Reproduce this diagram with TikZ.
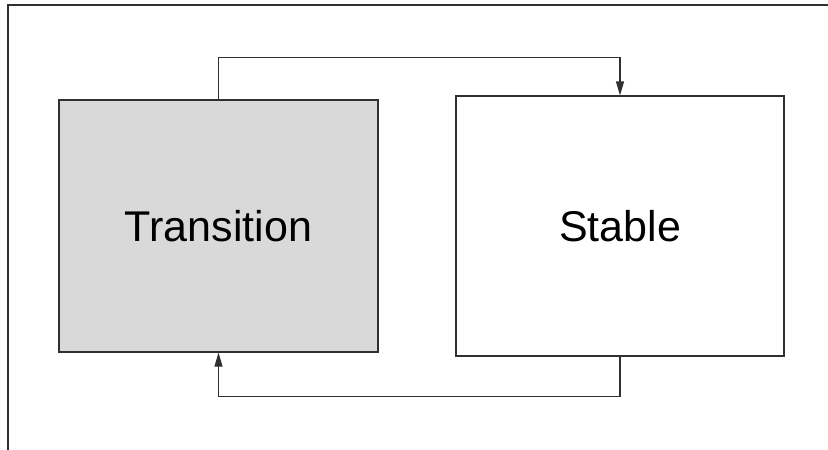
\documentclass[tikz,border=0pt]{standalone}
\usepackage{fontspec}
\setmainfont{Liberation Sans}
\usetikzlibrary{arrows.meta}

\definecolor{boxgray}{HTML}{D9D9D9}
\definecolor{linegray}{HTML}{303030}

\tikzstyle{state} = [draw=linegray, line width=1.1pt, inner sep=0pt,
    font=\fontsize{43}{50}\selectfont]
\tikzstyle{flow} = [draw=linegray, line width=1.1pt,
    -{Triangle[width=8pt,length=14pt]}]

\begin{document}
\begin{tikzpicture}[x=1pt, y=-1pt]
\useasboundingbox (0,0) rectangle (828,450);
% page edge
\draw[linegray, line width=1.3pt] (8,450) -- (8,5) -- (828,5);

\node[state, fill=boxgray, minimum width=319pt, minimum height=252pt]
    (transition) at (218.5,226) {Transition};
\node[state, fill=white, minimum width=328pt, minimum height=260pt]
    (stable) at (620,226) {Stable};

\draw[flow] (transition.north) -- ++(0,-42) -| (stable.north);
\draw[flow] (stable.south) -- ++(0,40) -| (transition.south);
\end{tikzpicture}
\end{document}
